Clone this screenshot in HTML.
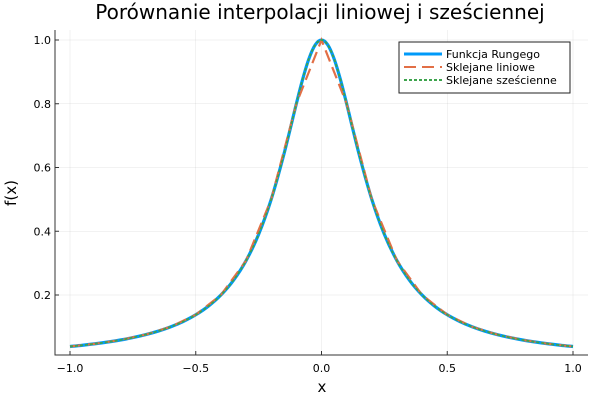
<!DOCTYPE html>
<html><head><meta charset="utf-8"><style>
body{margin:0;background:#fff}
svg{font-family:"DejaVu Sans","Liberation Sans",sans-serif}
</style></head><body>
<svg id="c" width="600" height="400" viewBox="0 0 600 400">
<rect width="600" height="400" fill="#fff"/>
<text x="320" y="19" font-size="20" text-anchor="middle">Porównanie interpolacji liniowej i sześciennej</text>
<g id="grid"></g><g id="axes"></g><g id="series"></g>
<text x="322" y="392" font-size="15" text-anchor="middle">x</text>
<text x="16" y="193" font-size="15" text-anchor="middle" transform="rotate(-90 16 193)">f(x)</text>
<g>
<rect x="399" y="42" width="171" height="51" fill="#fff" stroke="#222" stroke-width="1"/>
<line x1="404" y1="54" x2="442" y2="54" stroke="#009af9" stroke-width="3"/>
<text x="446" y="58" font-size="11">Funkcja Rungego</text>
<line x1="404" y1="67" x2="442" y2="67" stroke="#e26f46" stroke-width="2" stroke-dasharray="12 6"/>
<text x="446" y="71" font-size="11">Sklejane liniowe</text>
<line x1="404" y1="80" x2="442" y2="80" stroke="#3da44d" stroke-width="2" stroke-dasharray="3 2"/>
<text x="446" y="84" font-size="11">Sklejane sześcienne</text>
</g>
</svg>
<script>
const xs=[-1,-0.95,-0.9,-0.85,-0.8,-0.75,-0.7,-0.65,-0.6,-0.55,-0.5,-0.45,-0.4,-0.35,-0.3,-0.25,-0.2,-0.15,-0.1,-0.075,-0.05,-0.025,0,0.025,0.05,0.075,0.1,0.15,0.2,0.25,0.3,0.35,0.4,0.45,0.5,0.55,0.6,0.65,0.7,0.75,0.8,0.85,0.9,0.95,1];
const rungeVals=[0.0385,0.0424,0.0471,0.0525,0.0588,0.0664,0.0755,0.0865,0.1,0.1168,0.1379,0.1649,0.2,0.2462,0.3077,0.3902,0.5,0.64,0.8,0.8767,0.9412,0.9846,1,0.9846,0.9412,0.8767,0.8,0.64,0.5,0.3902,0.3077,0.2462,0.2,0.1649,0.1379,0.1168,0.1,0.0865,0.0755,0.0664,0.0588,0.0525,0.0471,0.0424,0.0385];
const cubicVals=rungeVals.slice();
const nodeX=[-1,-0.9,-0.8,-0.7,-0.6,-0.5,-0.4,-0.3,-0.2,-0.1,0,0.1,0.2,0.3,0.4,0.5,0.6,0.7,0.8,0.9,1];
const linearVals=[0.0385,0.0471,0.0588,0.0755,0.1,0.1379,0.2,0.3077,0.5,0.8,1,0.8,0.5,0.3077,0.2,0.1379,0.1,0.0755,0.0588,0.0471,0.0385];
const xTicks=[-1,-0.5,0,0.5,1];
const xTickLabels=["−1.0","−0.5","0.0","0.5","1.0"];
const yTicks=[0.2,0.4,0.6,0.8,1.0];
const yTickLabels=["0.2","0.4","0.6","0.8","1.0"];
const X=v=>321.5+v*251.5, Y=v=>358.75-v*318.75;
const NS="http://www.w3.org/2000/svg";
function mk(t,a,p){const e=document.createElementNS(NS,t);for(const k in a)e.setAttribute(k,a[k]);p.appendChild(e);return e;}
const grid=document.getElementById('grid'),axes=document.getElementById('axes'),ser=document.getElementById('series');
xTicks.forEach((t,i)=>{
 const g=mk('line',{x1:X(t),x2:X(t),y1:30,y2:355,stroke:'#000','stroke-opacity':0.1,'stroke-width':0.5},grid);
 
 
 const tk=mk('line',{x1:X(t),x2:X(t),y1:355,y2:351,stroke:'#333'},axes);
 
 
 const l=mk('text',{x:X(t),y:372,'font-size':11,'text-anchor':'middle'},axes);l.textContent=xTickLabels[i];
 
 
});
yTicks.forEach((t,i)=>{
 const g=mk('line',{x1:55,x2:588,y1:Y(t),y2:Y(t),stroke:'#000','stroke-opacity':0.1,'stroke-width':0.5},grid);
 
 
 const tk=mk('line',{x1:55,x2:59,y1:Y(t),y2:Y(t),stroke:'#333'},axes);
 
 
 const l=mk('text',{x:51,y:Y(t)+4,'font-size':11,'text-anchor':'end'},axes);l.textContent=yTickLabels[i];
 
 
});
const ax=mk('path',{d:'M55,30V355H588',fill:'none',stroke:'#333','stroke-width':1},axes);


function smooth(xv,yv){const p=xv.map((x,i)=>[X(x),Y(yv[i])]);let d='M'+p[0];
 for(let i=0;i<p.length-1;i++){const a=p[i-1]||p[i],b=p[i],c=p[i+1],e=p[i+2]||c;
  d+=' C'+[b[0]+(c[0]-a[0])/6,b[1]+(c[1]-a[1])/6]+' '+[c[0]-(e[0]-b[0])/6,c[1]-(e[1]-b[1])/6]+' '+c;}return d;}
const r=mk('path',{d:smooth(xs,rungeVals),fill:'none',stroke:'#009af9','stroke-width':3.2},ser);


const lin=mk('path',{d:'M'+nodeX.map((x,i)=>X(x)+','+Y(linearVals[i])).join('L'),fill:'none',stroke:'#e26f46','stroke-width':2.2,'stroke-dasharray':'12 6'},ser);


const cu=mk('path',{d:smooth(xs,cubicVals),fill:'none',stroke:'#3da44d','stroke-width':1.8,'stroke-dasharray':'3 2'},ser);


</script>
</body></html>
